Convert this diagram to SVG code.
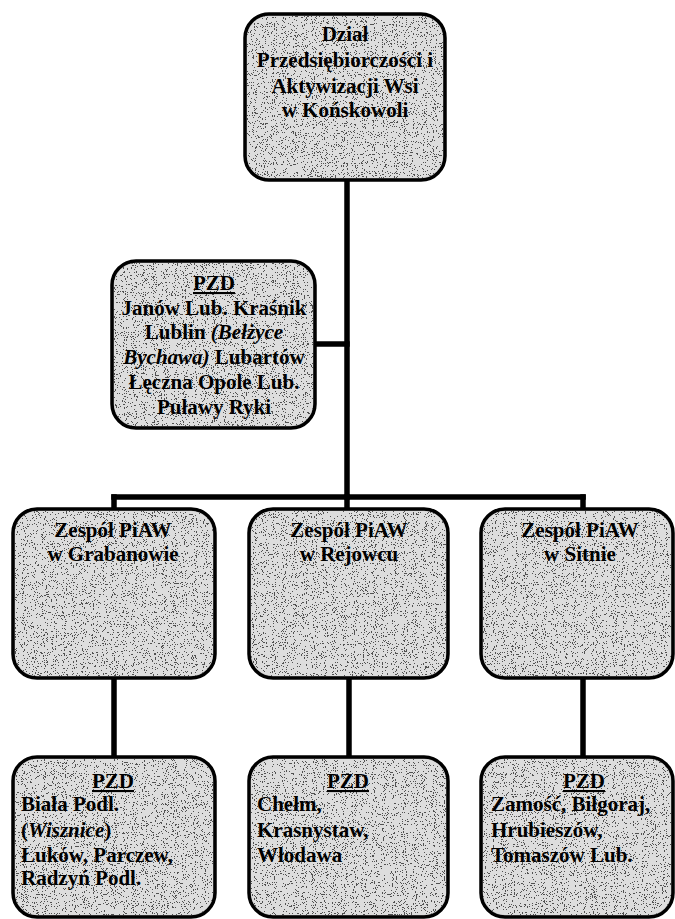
<svg xmlns="http://www.w3.org/2000/svg" width="675" height="919" viewBox="0 0 675 919">
<style>
.box{fill:#b4b4b4;stroke:#000;stroke-width:3.5}
.grain{filter:url(#grain)}
.t{font-family:"Liberation Serif","Times New Roman",serif;font-weight:bold;font-size:21px;fill:#000}
.c{text-anchor:middle}
.u{text-decoration:underline}
.i{font-style:italic}
.ln{stroke:#000;stroke-width:5.5;fill:none;stroke-linecap:square}
</style>
<defs>
<filter id="grain" x="0" y="0" width="100%" height="100%">
<feTurbulence type="fractalNoise" baseFrequency="0.9" numOctaves="2" seed="7" result="n"/>
<feColorMatrix in="n" type="saturate" values="0" result="g"/>
<feComponentTransfer in="g" result="k">
<feFuncR type="discrete" tableValues="0 0 1 1 1"/>
<feFuncG type="discrete" tableValues="0 0 1 1 1"/>
<feFuncB type="discrete" tableValues="0 0 1 1 1"/>
<feFuncA type="linear" slope="0" intercept="0.55"/>
</feComponentTransfer>
<feComposite in="k" in2="SourceGraphic" operator="in"/>
</filter>
</defs>

<g id="connectors">
<line class="ln" x1="347" y1="180" x2="347" y2="497"/>
<line class="ln" x1="315" y1="344" x2="347" y2="344"/>
<line class="ln" x1="114" y1="497" x2="583" y2="497"/>
<line class="ln" x1="114" y1="497" x2="114" y2="509"/>
<line class="ln" x1="347" y1="497" x2="347" y2="509"/>
<line class="ln" x1="583" y1="497" x2="583" y2="509"/>
<line class="ln" x1="114" y1="678" x2="114" y2="757"/>
<line class="ln" x1="349" y1="678" x2="349" y2="757"/>
<line class="ln" x1="583" y1="678" x2="583" y2="757"/>
</g>

<g id="node-top">
<rect class="box" x="245" y="14" width="200" height="166" rx="24"/>
<rect class="grain" x="247" y="16" width="196" height="162" rx="22" fill="#fff"/>
<text class="t c" x="345" y="41" font-size="22">Dział</text>
<text class="t c" x="345" y="67" font-size="22">Przedsiębiorczości i</text>
<text class="t c" x="345" y="93" font-size="22">Aktywizacji Wsi</text>
<text class="t c" x="345" y="117" font-size="22">w Końskowoli</text>
</g>

<g id="node-pzd-lubelskie">
<rect class="box" x="112" y="261" width="203" height="167" rx="24"/>
<rect class="grain" x="114" y="263" width="199" height="163" rx="22" fill="#fff"/>
<text class="t c u" x="214" y="290">PZD</text>
<text class="t c" x="214" y="315" font-size="20">Janów Lub. Kraśnik</text>
<text class="t c" x="214" y="339" font-size="20">Lublin <tspan class="i">(Bełżyce</tspan></text>
<text class="t c" x="214" y="364" font-size="20"><tspan class="i">Bychawa)</tspan> Lubartów</text>
<text class="t c" x="214" y="389" font-size="20">Łęczna Opole Lub.</text>
<text class="t c" x="214" y="414" font-size="20">Puławy Ryki</text>
</g>

<g id="node-grabanow">
<rect class="box" x="13" y="509" width="202" height="169" rx="24"/>
<rect class="grain" x="15" y="511" width="198" height="165" rx="22" fill="#fff"/>
<text class="t c" x="113" y="537">Zespół PiAW</text>
<text class="t c" x="113" y="561">w Grabanowie</text>
</g>

<g id="node-rejowiec">
<rect class="box" x="249" y="509" width="199" height="169" rx="24"/>
<rect class="grain" x="251" y="511" width="195" height="165" rx="22" fill="#fff"/>
<text class="t c" x="349" y="537">Zespół PiAW</text>
<text class="t c" x="349" y="561">w Rejowcu</text>
</g>

<g id="node-sitno">
<rect class="box" x="481" y="509" width="192" height="169" rx="24"/>
<rect class="grain" x="483" y="511" width="188" height="165" rx="22" fill="#fff"/>
<text class="t c" x="580" y="537">Zespół PiAW</text>
<text class="t c" x="580" y="561">w Sitnie</text>
</g>

<g id="node-pzd-biala">
<rect class="box" x="13" y="757" width="202" height="160" rx="24"/>
<rect class="grain" x="15" y="759" width="198" height="156" rx="22" fill="#fff"/>
<text class="t c u" x="113" y="788">PZD</text>
<text class="t" x="21" y="811">Biała Podl.</text>
<text class="t" x="21" y="837">(<tspan class="i">Wisznice</tspan>)</text>
<text class="t" x="21" y="862">Łuków, Parczew,</text>
<text class="t" x="21" y="885">Radzyń Podl.</text>
</g>

<g id="node-pzd-chelm">
<rect class="box" x="249" y="757" width="199" height="160" rx="24"/>
<rect class="grain" x="251" y="759" width="195" height="156" rx="22" fill="#fff"/>
<text class="t c u" x="348" y="788">PZD</text>
<text class="t" x="257" y="811">Chełm,</text>
<text class="t" x="257" y="837">Krasnystaw,</text>
<text class="t" x="257" y="862">Włodawa</text>
</g>

<g id="node-pzd-zamosc">
<rect class="box" x="481" y="757" width="192" height="160" rx="24"/>
<rect class="grain" x="483" y="759" width="188" height="156" rx="22" fill="#fff"/>
<text class="t c u" x="584" y="788">PZD</text>
<text class="t" x="491" y="811">Zamość, Biłgoraj,</text>
<text class="t" x="491" y="837">Hrubieszów,</text>
<text class="t" x="491" y="862">Tomaszów Lub.</text>
</g>
</svg>
